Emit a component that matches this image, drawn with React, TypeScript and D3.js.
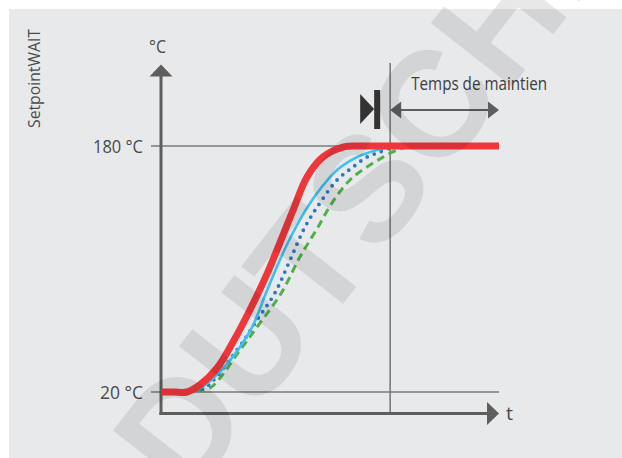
import React, { useEffect, useRef } from 'react';
import * as d3 from 'd3';

// Temperature curves: [time (arbitrary units), temperature °C]
type Pt = [number, number];

const setpointCurve: Pt[] = [
  [0, 20], [4, 20], [7.7, 20], [11.5, 24.6], [16.6, 35.6], [21.3, 52.5], [26.3, 73.3],
  [31.4, 97], [35, 116], [39.1, 138.4], [43.2, 159.8], [47.9, 172.8], [53.8, 179.3],
  [58.9, 180], [64, 180], [70, 180], [100, 180],
];
const cyanCurve: Pt[] = [
  [9, 21], [12, 23], [19.8, 38.9], [26.9, 62], [31, 84], [36.1, 110.4], [41.1, 131.9],
  [46.2, 149.4], [52.1, 164.4], [58, 172.8], [63.9, 177.4], [67.8, 179.3], [70, 180],
];
const dottedCurve: Pt[] = [
  [10, 21], [13, 22.6], [22.5, 47.3], [28.4, 66.8], [33.7, 84.4], [38.2, 105.9],
  [42.6, 127.3], [47, 142.9], [52.1, 157.9], [56.8, 166.3], [60.9, 172.8], [64.8, 176.1],
  [68.3, 179.3],
];
const dashedCurve: Pt[] = [
  [10.5, 21], [14.5, 22.6], [23.4, 47.3], [29.3, 64.9], [35.6, 84.4], [41.1, 107.8],
  [46.2, 126.3], [50.9, 144], [55.9, 157.9], [60.9, 166.3], [65.7, 172.8], [69.8, 177.4],
  [73.7, 179.7],
];

const yTicks = [20, 180];
const holdStart = 67.8;
const holdEnd = 100;

const App = () => {
  const svgRef = useRef<SVGSVGElement | null>(null);

  useEffect(() => {
    document.body.style.margin = '0';
    if (!svgRef.current) return;

    const width = 622;
    const height = 458;
    const svg = d3.select(svgRef.current)
      .attr('width', width)
      .attr('height', height)
      .attr('viewBox', `0 0 ${width} ${height}`);
    svg.selectAll('*').remove();

    const font = '"Open Sans", "DejaVu Sans", sans-serif';
    const textCol = '#4a4a4a';
    const axisCol = '#5e5e5e';
    const lineCol = '#7a7a7a';

    // x: time, y: temperature
    const x = d3.scaleLinear().domain([0, 100]).range([161, 499]);
    const y = d3.scaleLinear().domain([20, 180]).range([392, 146]);
    const yAxisMin = 6;
    const yAxisMax = 233;

    // narrow text helper (the original uses a condensed face)
    const label = (tx: number, ty: number, str: string, len: number, anchor = 'start', size = 18) =>
      svg.append('text')
        .attr('x', tx).attr('y', ty)
        .attr('text-anchor', anchor)
        .attr('fill', textCol)
        .attr('textLength', len)
        .attr('lengthAdjust', 'spacingAndGlyphs')
        .style('font-family', font).style('font-size', `${size}px`)
        .text(str);

    // background panel
    svg.append('rect').attr('x', 0).attr('y', 0).attr('width', width).attr('height', height).attr('fill', '#ffffff');
    svg.append('rect').attr('x', 9).attr('y', 9).attr('width', width - 9).attr('height', height - 9).attr('fill', '#e8e9eb');

    // reference lines at 20 / 180 °C
    yTicks.forEach(t => {
      svg.append('line')
        .attr('x1', x(0) - 10).attr('x2', x(100))
        .attr('y1', y(t)).attr('y2', y(t))
        .attr('stroke', lineCol).attr('stroke-width', 1.6);
      label(x(0) - 18, y(t) + 6.5, `${t} °C`, t >= 100 ? 50 : 43, 'end');
    });

    // vertical line at start of hold time
    svg.append('line')
      .attr('x1', x(holdStart)).attr('x2', x(holdStart))
      .attr('y1', 63).attr('y2', y(yAxisMin))
      .attr('stroke', lineCol).attr('stroke-width', 1.6);

    // axes
    svg.append('line')
      .attr('x1', x(0)).attr('x2', x(0))
      .attr('y1', y(yAxisMin) + 1.5).attr('y2', y(yAxisMax) + 10)
      .attr('stroke', axisCol).attr('stroke-width', 3);
    svg.append('path')
      .attr('d', `M${x(0)},${y(yAxisMax)} l11.5,12 l-23,0 Z`)
      .attr('fill', axisCol);
    svg.append('line')
      .attr('x1', x(0) - 1.5).attr('x2', x(100) - 10)
      .attr('y1', y(yAxisMin)).attr('y2', y(yAxisMin))
      .attr('stroke', axisCol).attr('stroke-width', 3);
    svg.append('path')
      .attr('d', `M${x(100)},${y(yAxisMin)} l-12,-11.5 l0,23 Z`)
      .attr('fill', axisCol);

    label(149, 53, '°C', 17);
    label(x(100) + 7, y(yAxisMin) + 6, 't', 7);

    svg.append('text')
      .attr('transform', 'translate(40,128) rotate(-90)')
      .attr('fill', textCol)
      .attr('textLength', 99)
      .attr('lengthAdjust', 'spacingAndGlyphs')
      .style('font-family', font).style('font-size', '17px')
      .text('SetpointWAIT');

    // hold time arrow
    const ay = 110;
    svg.append('line')
      .attr('x1', x(holdStart) + 8).attr('x2', x(holdEnd) - 8)
      .attr('y1', ay).attr('y2', ay)
      .attr('stroke', axisCol).attr('stroke-width', 2.2);
    svg.append('path')
      .attr('d', `M${x(holdStart)},${ay} l11,-8.5 l0,17 Z`)
      .attr('fill', axisCol);
    svg.append('path')
      .attr('d', `M${x(holdEnd)},${ay} l-11,-8.5 l0,17 Z`)
      .attr('fill', axisCol);
    label(x(holdStart) + 21, 90, 'Temps de maintien', 136).attr('fill', '#3d3d3d');

    // setpoint-reached marker
    svg.append('path')
      .attr('d', `M${x(holdStart) - 30},94 L${x(holdStart) - 16},109 L${x(holdStart) - 30},124 Z`)
      .attr('fill', '#333333');
    svg.append('rect')
      .attr('x', x(holdStart) - 16).attr('y', 90)
      .attr('width', 6).attr('height', 39)
      .attr('fill', '#333333');

    // curves
    const line = d3.line<Pt>()
      .x(d => x(d[0]))
      .y(d => y(d[1]))
      .curve(d3.curveCatmullRom.alpha(0.5));

    svg.append('path').datum(dashedCurve).attr('d', line)
      .attr('fill', 'none').attr('stroke', '#52b04c').attr('stroke-width', 3)
      .attr('stroke-dasharray', '8 5');
    svg.append('path').datum(dottedCurve).attr('d', line)
      .attr('fill', 'none').attr('stroke', '#2a78c3').attr('stroke-width', 3.8)
      .attr('stroke-linecap', 'round').attr('stroke-dasharray', '0 7.6');
    svg.append('path').datum(cyanCurve).attr('d', line)
      .attr('fill', 'none').attr('stroke', '#3cc0ef').attr('stroke-width', 2.6);
    svg.append('path').datum(setpointCurve).attr('d', line)
      .attr('fill', 'none').attr('stroke', '#ef363b').attr('stroke-width', 7);

    // watermark
    svg.append('text')
      .attr('transform', 'translate(188,502) rotate(-52)')
      .attr('fill', '#000000')
      .attr('fill-opacity', 0.09)
      .style('font-family', '"Liberation Sans", Arial, sans-serif')
      .style('font-weight', 'bold')
      .style('font-size', '150px')
      .text('DUTSCHER');
  }, []);

  return <svg ref={svgRef} style={{ display: 'block' }}></svg>;
};

export default App;
